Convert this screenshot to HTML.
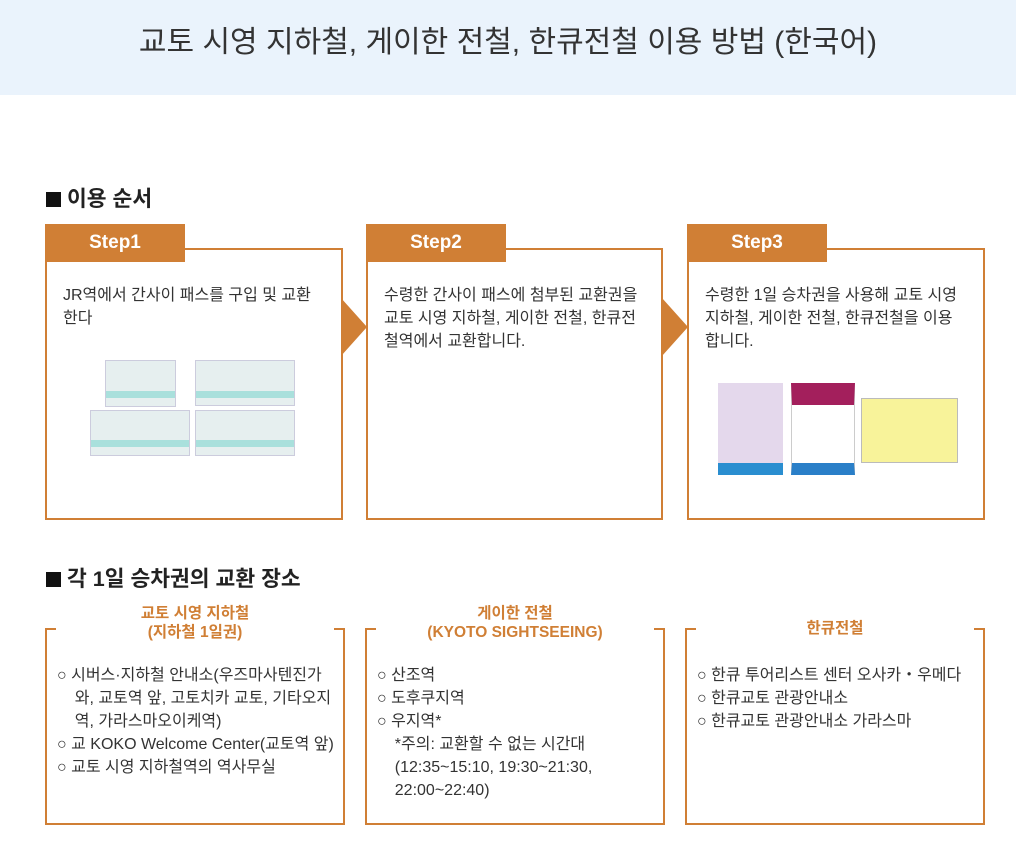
<!DOCTYPE html>
<html><head><meta charset="utf-8">
<style>
*{margin:0;padding:0;box-sizing:border-box}
body{width:1016px;height:849px;background:#fff;position:relative;font-family:"Liberation Sans","Noto Sans CJK KR",sans-serif;color:#333;overflow:hidden}
.abs{position:absolute}
.hdr{left:0;top:0;width:1016px;height:95px;background:#eaf3fc;text-align:center;font-size:30px;line-height:86px;color:#333}
.h2{font-size:21.5px;font-weight:bold;color:#222}
.h2 span{display:inline-block;width:15px;height:15px;background:#111;margin-right:6px;vertical-align:-1px}
.box{border:2px solid #d07f35;background:#fff}
.tab{background:#d07f35;color:#fff;font-weight:bold;font-size:19px;text-align:center;line-height:38px}
.txt{font-size:16px;line-height:23px;color:#333}
.arr{width:0;height:0;border-top:29px solid transparent;border-bottom:29px solid transparent;border-left:26px solid #d07f35}
.b2{border:2px solid #d07f35;border-top:none}
.tick{height:2px;width:11px;background:#d07f35}
.ttl{color:#d07f35;font-weight:bold;font-size:15.5px;line-height:19px;text-align:center}
.li{font-size:16px;line-height:23px;color:#333}
.tk{background:#e6efef;border:1px solid #ccd}
.tk i{position:absolute;left:0;right:0;height:7px;background:#a9e0dc}
</style></head><body>
<div class="abs hdr">교토 시영 지하철, 게이한 전철, 한큐전철 이용 방법 (한국어)</div>

<div class="abs h2" style="left:46px;top:182px"><span></span>이용 순서</div>

<div class="abs box" style="left:45px;top:248px;width:298px;height:272px"></div>
<div class="abs box" style="left:366px;top:248px;width:297px;height:272px"></div>
<div class="abs box" style="left:687px;top:248px;width:298px;height:272px"></div>
<div class="abs tab" style="left:45px;top:224px;width:140px;height:38px">Step1</div>
<div class="abs tab" style="left:366px;top:224px;width:140px;height:38px">Step2</div>
<div class="abs tab" style="left:687px;top:224px;width:140px;height:38px">Step3</div>
<div class="abs arr" style="left:341px;top:298px"></div>
<div class="abs arr" style="left:662px;top:298px"></div>

<div class="abs txt" style="left:63px;top:284px;width:265px">JR역에서 간사이 패스를 구입 및 교환<br>한다</div>
<div class="abs txt" style="left:384px;top:284px;width:275px">수령한 간사이 패스에 첨부된 교환권을<br>교토 시영 지하철, 게이한 전철, 한큐전<br>철역에서 교환합니다.</div>
<div class="abs txt" style="left:705px;top:284px;width:275px">수령한 1일 승차권을 사용해 교토 시영<br>지하철, 게이한 전철, 한큐전철을 이용<br>합니다.</div>

<div class="abs tk" style="left:105px;top:360px;width:71px;height:47px"><i style="top:30px"></i></div>
<div class="abs tk" style="left:195px;top:360px;width:100px;height:46px"><i style="top:30px"></i></div>
<div class="abs tk" style="left:90px;top:410px;width:100px;height:46px"><i style="top:29px"></i></div>
<div class="abs tk" style="left:195px;top:410px;width:100px;height:46px"><i style="top:29px"></i></div>

<div class="abs" style="left:718px;top:383px;width:65px;height:92px;background:#e4d8ec;border-bottom:12px solid #2a8ed0"></div>
<div class="abs" style="left:791px;top:383px;width:64px;height:92px;background:#fff;border:1px solid #ccc;border-top:22px solid #a31f5c;border-bottom:12px solid #2a7fc8"></div>
<div class="abs" style="left:861px;top:398px;width:97px;height:65px;background:#f8f39a;border:1px solid #bbb"></div>

<div class="abs h2" style="left:46px;top:562px"><span></span>각 1일 승차권의 교환 장소</div>

<div class="abs b2" style="left:45px;top:628px;width:300px;height:197px"></div>
<div class="abs tick" style="left:45px;top:628px"></div><div class="abs tick" style="left:334px;top:628px"></div>
<div class="abs b2" style="left:365px;top:628px;width:300px;height:197px"></div>
<div class="abs tick" style="left:365px;top:628px"></div><div class="abs tick" style="left:654px;top:628px"></div>
<div class="abs b2" style="left:685px;top:628px;width:300px;height:197px"></div>
<div class="abs tick" style="left:685px;top:628px"></div><div class="abs tick" style="left:974px;top:628px"></div>

<div class="abs ttl" style="left:45px;top:604px;width:300px">교토 시영 지하철<br>(지하철 1일권)</div>
<div class="abs ttl" style="left:365px;top:604px;width:300px">게이한 전철<br>(KYOTO SIGHTSEEING)</div>
<div class="abs ttl" style="left:685px;top:619px;width:300px">한큐전철</div>

<div class="abs li" style="left:57px;top:664px;width:288px">○ 시버스·지하철 안내소(우즈마사텐진가<br>&nbsp;&nbsp;&nbsp;&nbsp;와, 교토역 앞, 고토치카 교토, 기타오지<br>&nbsp;&nbsp;&nbsp;&nbsp;역, 가라스마오이케역)<br>○ 교 KOKO Welcome Center(교토역 앞)<br>○ 교토 시영 지하철역의 역사무실</div>
<div class="abs li" style="left:377px;top:664px;width:288px">○ 산조역<br>○ 도후쿠지역<br>○ 우지역*<br>&nbsp;&nbsp;&nbsp;&nbsp;*주의: 교환할 수 없는 시간대<br>&nbsp;&nbsp;&nbsp;&nbsp;(12:35~15:10, 19:30~21:30,<br>&nbsp;&nbsp;&nbsp;&nbsp;22:00~22:40)</div>
<div class="abs li" style="left:697px;top:664px;width:288px">○ 한큐 투어리스트 센터 오사카・우메다<br>○ 한큐교토 관광안내소<br>○ 한큐교토 관광안내소 가라스마</div>
</body></html>
